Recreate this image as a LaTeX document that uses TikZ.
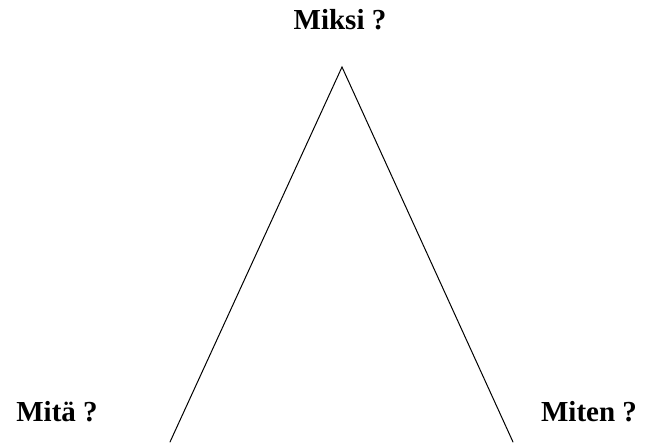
\documentclass[tikz,border=0pt]{standalone}
\usepackage{fontspec}
\setmainfont{Liberation Serif}
\usepackage{tikz}
\usetikzlibrary{positioning, calc}

\begin{document}
\begin{tikzpicture}[
  x=1pt, y=1pt,
  question/.style={anchor=base, inner sep=0pt, font=\fontsize{29}{34}\selectfont\bfseries},
  side/.style={line width=1pt, line cap=round}
]
  \useasboundingbox (0,0) rectangle (664,442);

  \coordinate (top) at (342,375);
  \coordinate (leftfoot) at (170,0);
  \coordinate (rightfoot) at (513,0);

  \node[question] (why) at (340,412) {Miksi ?};
  \node[question] (what) at (57,21) {Mitä ?};
  \node[question] (how) at (589,21) {Miten ?};

  \draw[side] (leftfoot) -- (top) -- (rightfoot);
\end{tikzpicture}
\end{document}
